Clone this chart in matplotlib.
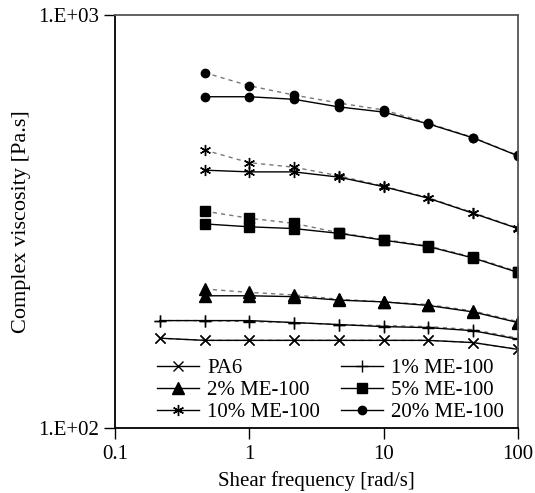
import matplotlib
matplotlib.use("Agg")
import matplotlib.pyplot as plt
from matplotlib.ticker import FixedLocator, NullLocator

plt.rcParams['font.family'] = ['Liberation Serif', 'DejaVu Serif']

# frequencies [rad/s]
freq = [0.215, 0.464, 1.0, 2.15, 4.64, 10.0, 21.5, 46.4, 100.0]

# complex viscosity [Pa.s], main series (solid lines)
pa6 = [165, 163, 163, 163, 163, 163, 163, 161, 155]
me1 = [182, 182, 182, 180, 178, 176, 175, 172, 164]
me2 = [209, 209, 208, 204, 202, 198, 191, 180]
me5 = [312, 307, 304, 296, 285, 275, 258, 238]
me10 = [421, 417, 417, 405, 384, 360, 331, 304]
me20 = [634, 634, 625, 599, 582, 545, 504, 456]

# second run (dashed lines)
pa6_b = [165, 163, 163, 163, 163, 163, 163, 161, 155]
me1_b = [182, 182, 181, 180, 178, 177, 176, 173, 165]
me2_b = [217, 213, 210, 205, 202, 199, 192, 181]
me5_b = [335, 322, 313, 297, 286, 276, 259, 239]
me10_b = [471, 439, 428, 408, 385, 361, 332, 305]
me20_b = [725, 674, 640, 612, 589, 547, 505, 457]

labels = ['PA6', '1% ME-100', '2% ME-100', '5% ME-100', '10% ME-100', '20% ME-100']
markers = ['x', '+', '^', 's', '*', 'o']
msizes = [7, 9, 8, 6.5, 8, 6]

series = [pa6, me1, me2, me5, me10, me20]
series_b = [pa6_b, me1_b, me2_b, me5_b, me10_b, me20_b]

fig = plt.figure(figsize=(5.35, 4.93), dpi=100)
ax = fig.add_axes([115/535, 65/493, 403/535, 413/493])

handles = []
for vals, vals_b, lab, mk, ms in zip(series, series_b, labels, markers, msizes):
    x = freq[-len(vals):]
    mk_kw = dict(marker=mk, markersize=ms, markerfacecolor='black', markeredgecolor='black')
    if mk == '*':
        mk_kw['marker'] = (6, 2, 0)
        mk_kw['markeredgewidth'] = 1.0
    ax.plot(x, vals_b, linestyle=(0, (3, 3)), color='#777777', linewidth=1.0, **mk_kw)
    h, = ax.plot(x, vals, linestyle='-', color='black', linewidth=1.0, label=lab, **mk_kw)
    handles.append(h)

ax.set_xscale('log')
ax.set_yscale('log')
ax.set_xlim(0.1, 100)
ax.set_ylim(100, 1000)

ax.xaxis.set_major_locator(FixedLocator([0.1, 1, 10, 100]))
ax.xaxis.set_minor_locator(NullLocator())
ax.set_xticklabels(['0.1', '1', '10', '100'])
ax.yaxis.set_major_locator(FixedLocator([100, 1000]))
ax.yaxis.set_minor_locator(NullLocator())
ax.set_yticklabels(['1.E+02', '1.E+03'])

ax.tick_params(axis='both', direction='out', length=8, width=1, labelsize=15, colors='black')
ax.tick_params(axis='x', pad=4)

for side in ['left', 'bottom']:
    ax.spines[side].set_color('black')
    ax.spines[side].set_linewidth(1.3)
for side in ['top', 'right']:
    ax.spines[side].set_color('#555555')
    ax.spines[side].set_linewidth(1.3)

ax.set_xlabel('Shear frequency [rad/s]', fontsize=15, labelpad=5)
ax.set_ylabel('Complex viscosity [Pa.s]', fontsize=16, labelpad=5)

# legend filled row by row: PA6 / 1%, 2% / 5%, 10% / 20%
order = [0, 2, 4, 1, 3, 5]
ax.legend(handles=[handles[i] for i in order], ncol=2, loc='lower left',
          bbox_to_anchor=(0.105, 0.015), frameon=False, fontsize=15,
          handlelength=2.0, handletextpad=0.4, columnspacing=1.0,
          labelspacing=0.1, borderaxespad=0.0, borderpad=0.0)

fig.savefig('out.png', dpi=100)
